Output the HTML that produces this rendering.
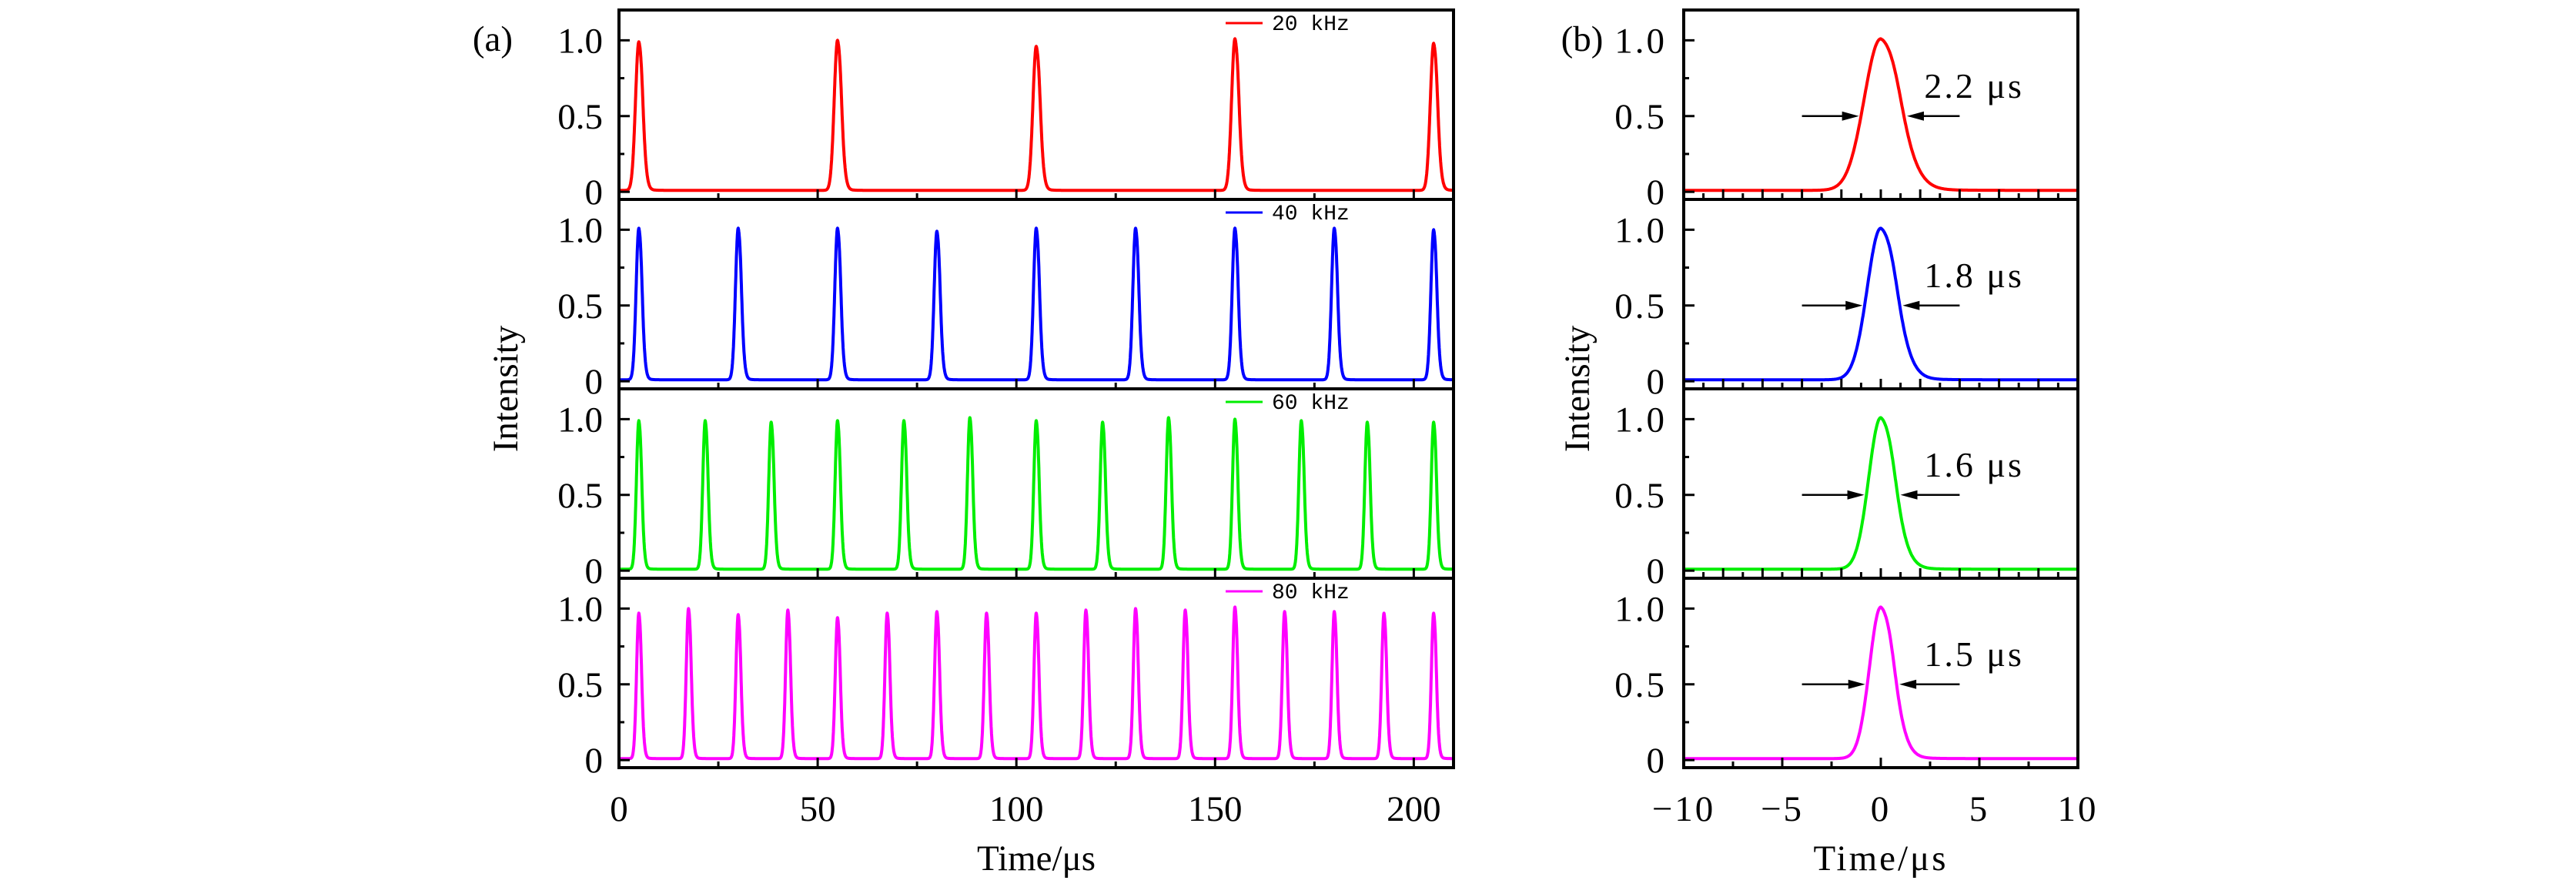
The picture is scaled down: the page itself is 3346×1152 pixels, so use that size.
<!DOCTYPE html>
<html><head><meta charset="utf-8"><style>
html,body{margin:0;padding:0;background:#fff;}
svg{display:block;font-family:"Liberation Serif",serif;}
</style></head><body>
<svg id="chart" width="3346" height="1152" viewBox="0 0 3346 1152" xmlns="http://www.w3.org/2000/svg"></svg>
<script>
// ---- data ----
const seriesLabels = ["20 kHz","40 kHz","60 kHz","80 kHz"];
const seriesColors = ["#ff0000","#0000ff","#00ee00","#ff00ff"];
const peaks20 = [5,55,105,155,205];
const heights20 = [0.98,0.99,0.95,1.0,0.97];
const peaks40 = [5,30,55,80,105,130,155,180,205];
const heights40 = [1.0,1.0,1.0,0.98,1.0,1.0,1.0,1.0,0.99];
const peaks60 = [5,21.7,38.3,55,71.7,88.3,105,121.7,138.3,155,171.7,188.3,205];
const heights60 = [0.98,0.98,0.97,0.98,0.98,1.0,0.98,0.97,1.0,0.99,0.98,0.97,0.97];
const peaks80 = [5,17.5,30,42.5,55,67.5,80,92.5,105,117.5,130,142.5,155,167.5,180,192.5,205];
const heights80 = [0.96,0.99,0.95,0.98,0.93,0.96,0.97,0.96,0.96,0.98,0.99,0.98,1.0,0.97,0.97,0.96,0.96];
const fwhm = [2.2,1.8,1.6,1.5];
const fwhmLabels = ["2.2 μs","1.8 μs","1.6 μs","1.5 μs"];
const xTicksA = [0,50,100,150,200];
const xTicksB = [-10,-5,0,5,10];
const xTickLabelsB = ["−10","−5","0","5","10"];
const yTicks = [0,0.5,1.0];
const yTickLabels = ["0","0.5","1.0"];

const NS="http://www.w3.org/2000/svg";
const svg=document.getElementById('chart');
function el(tag,attrs,parent){const e=document.createElementNS(NS,tag);for(const k in attrs)e.setAttribute(k,attrs[k]);(parent||svg).appendChild(e);return e;}

const TOP=13, SUBH=246, FS=47;
const A={x0:804,x1:1888,min:0,max:210};
const B={x0:2187,x1:2699,min:-10,max:10};
const YMIN=-0.05,YMAX=1.2;
function sx(P,v){return P.x0+(v-P.min)/(P.max-P.min)*(P.x1-P.x0);}
function sy(i,v){const top=TOP+i*SUBH;return top+(YMAX-v)/(YMAX-YMIN)*SUBH;}
function pulse(dt,w){
  const hl=0.45*w,hr=0.55*w;
  if(dt<0){return Math.exp(-Math.LN2*(dt/hl)*(dt/hl));}
  const g=Math.exp(-Math.LN2*(dt/hr)*(dt/hr));
  const tail=1/(1+Math.pow(dt/hr,4));
  return 0.6*g+0.4*tail*Math.exp(-dt/(3*w));
}

const allPeaks=[peaks20,peaks40,peaks60,peaks80];
const allHeights=[heights20,heights40,heights60,heights80];

// ---- panel a ----
for(let i=0;i<4;i++){
  const g=el('g',{});
  
  
  const top=TOP+i*SUBH,bot=top+SUBH;
  let d='';
  for(let t=0;t<=210;t+=0.05){
    let v=0.01;
    for(let k=0;k<allPeaks[i].length;k++){v+=allHeights[i][k]*pulse(t-allPeaks[i][k],fwhm[i]);}
    d+=(d?'L':'M')+sx(A,t).toFixed(1)+','+sy(i,v).toFixed(1);
  }
  const p=el('path',{d:d,fill:'none',stroke:seriesColors[i],'stroke-width':4,'stroke-linejoin':'round'},g);
  
  
  for(let t=0;t<=210;t+=25){const L=(t%50===0)?13:8;el('line',{x1:sx(A,t),x2:sx(A,t),y1:bot,y2:bot-L,stroke:'#000','stroke-width':3},g);}
  for(let k=0;k<=4;k++){const v=k*0.25;const L=(k%2===0)?14:7;el('line',{x1:A.x0,x2:A.x0+L,y1:sy(i,v),y2:sy(i,v),stroke:'#000','stroke-width':3},g);}
  yTicks.forEach((v,k)=>{const t=el('text',{x:783,y:sy(i,v)+16,'text-anchor':'end','font-size':FS},g);t.textContent=yTickLabels[k];
    });
  el('rect',{x:A.x0,y:top,width:A.x1-A.x0,height:SUBH,fill:'none',stroke:'#000','stroke-width':4},g);
  const lg=el('g',{},g);
  
  
  el('line',{x1:1592,x2:1640,y1:top+17,y2:top+17,stroke:seriesColors[i],'stroke-width':3},lg);
  const lt=el('text',{x:1652,y:top+26,'font-size':28,'font-family':'"Liberation Mono",monospace'},lg);lt.textContent=seriesLabels[i];
}
xTicksA.forEach(v=>{const t=el('text',{x:sx(A,v),y:1066,'text-anchor':'middle','font-size':FS});t.textContent=v;
  });

// ---- panel b ----
for(let i=0;i<4;i++){
  const g=el('g',{});
  
  
  const top=TOP+i*SUBH,bot=top+SUBH;
  let d='';
  for(let t=-10;t<=10.001;t+=0.02){const v=0.01+pulse(t,fwhm[i]);d+=(d?'L':'M')+sx(B,t).toFixed(1)+','+sy(i,v).toFixed(1);}
  const p=el('path',{d:d,fill:'none',stroke:seriesColors[i],'stroke-width':4,'stroke-linejoin':'round'},g);
  
  
  if(i<3){for(let t=-10;t<=10;t++){const L=(t%2===0)?13:8;el('line',{x1:sx(B,t),x2:sx(B,t),y1:bot,y2:bot-L,stroke:'#000','stroke-width':3},g);}}
  else{for(let t=-10;t<=10;t+=2.5){const L=(t%5===0)?13:8;el('line',{x1:sx(B,t),x2:sx(B,t),y1:bot,y2:bot-L,stroke:'#000','stroke-width':3},g);}}
  for(let k=0;k<=4;k++){const v=k*0.25;const L=(k%2===0)?14:7;el('line',{x1:B.x0,x2:B.x0+L,y1:sy(i,v),y2:sy(i,v),stroke:'#000','stroke-width':3},g);}
  yTicks.forEach((v,k)=>{const t=el('text',{x:2165,y:sy(i,v)+16,'text-anchor':'end','font-size':FS,'letter-spacing':3},g);t.textContent=yTickLabels[k];
    });
  el('rect',{x:B.x0,y:top,width:B.x1-B.x0,height:SUBH,fill:'none',stroke:'#000','stroke-width':4},g);
  const hl=0.45*fwhm[i],hr=0.55*fwhm[i];const yy=sy(i,0.5);
  const ag=el('g',{},g);
  
  
  const xl=sx(B,-hl)-3,xr=sx(B,hr)+3;
  el('line',{x1:sx(B,-4),x2:xl-18,y1:yy,y2:yy,stroke:'#000','stroke-width':2.5},ag);
  el('polygon',{points:`${xl},${yy} ${xl-22},${yy-6} ${xl-22},${yy+6}`,fill:'#000'},ag);
  el('line',{x1:sx(B,4),x2:xr+18,y1:yy,y2:yy,stroke:'#000','stroke-width':2.5},ag);
  el('polygon',{points:`${xr},${yy} ${xr+22},${yy-6} ${xr+22},${yy+6}`,fill:'#000'},ag);
  const ft=el('text',{x:sx(B,2.2),y:sy(i,0.62),'font-size':46,'letter-spacing':3},g);ft.textContent=fwhmLabels[i];
  
}
xTicksB.forEach((v,k)=>{const t=el('text',{x:sx(B,v),y:1066,'text-anchor':'middle','font-size':FS,'letter-spacing':3});t.textContent=xTickLabelsB[k];
  });

// ---- titles ----
function txt(s,attrs,name){const t=el('text',attrs);t.textContent=s;return t;}
txt('(a)',{x:640,y:66,'text-anchor':'middle','font-size':FS},'panel-a-label');
txt('(b)',{x:2055,y:66,'text-anchor':'middle','font-size':FS},'panel-b-label');
txt('Intensity',{x:0,y:0,'text-anchor':'middle','font-size':FS,transform:'translate(672,505) rotate(-90)'},'y-axis-title-a');
txt('Intensity',{x:0,y:0,'text-anchor':'middle','font-size':FS,transform:'translate(2064,505) rotate(-90)'},'y-axis-title-b');
txt('Time/μs',{x:1346,y:1130,'text-anchor':'middle','font-size':FS},'x-axis-title-a');
txt('Time/μs',{x:2443,y:1130,'text-anchor':'middle','font-size':FS,'letter-spacing':3},'x-axis-title-b');
</script>
</body></html>
